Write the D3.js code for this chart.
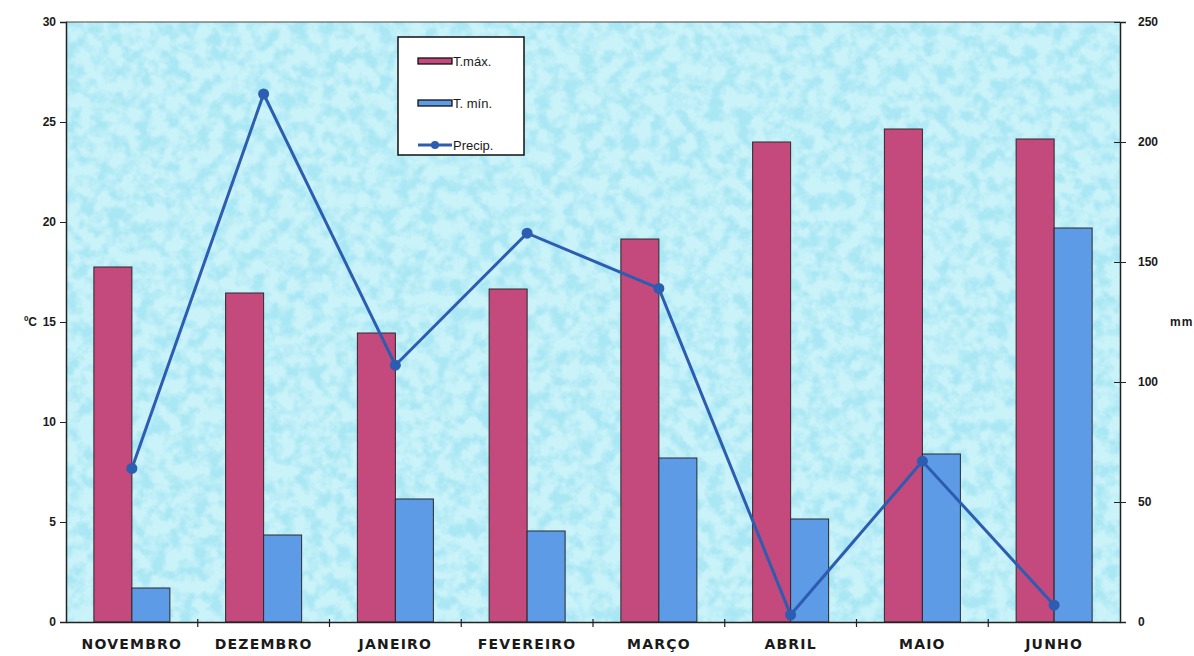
<!DOCTYPE html>
<html>
<head>
<meta charset="utf-8">
<script src="https://cdn.jsdelivr.net/npm/d3@7"></script>
<style>
  body { margin: 0; background: #ffffff; }
  text { font-family: "Liberation Sans", Arial, sans-serif; font-weight: bold; fill: #1a1a1a; }
</style>
</head>
<body>
<div id="chart"></div>
<script>
// chart data
const months = ['NOVEMBRO', 'DEZEMBRO', 'JANEIRO', 'FEVEREIRO', 'MARÇO', 'ABRIL', 'MAIO', 'JUNHO'];
const tMax = [17.75, 16.45, 14.45, 16.65, 19.15, 24.0, 24.65, 24.15];
const tMin = [1.7, 4.35, 6.15, 4.55, 8.2, 5.15, 8.4, 19.7];
const precip = [64, 220, 107, 162, 139, 3, 67, 7];
const tempTicks = [0, 5, 10, 15, 20, 25, 30];
const precipTicks = [0, 50, 100, 150, 200, 250];
const legendItems = ['T.máx.', 'T. mín.', 'Precip.'];

// dimensions and margins
const W = 1194, H = 656;
const margin = {top: 22, right: 74, bottom: 34, left: 66},
    width = W - margin.left - margin.right,
    height = H - margin.top - margin.bottom;

const colRed = '#c4497c', colBlue = '#5e9be6', colLine = '#2c5db0';

const svg = d3.select('#chart').append('svg')
    .attr('width', W).attr('height', H);

// mottled cyan background texture
const defs = svg.append('defs');
const filt = defs.append('filter').attr('id', 'tex')
    .attr('x', 0).attr('y', 0).attr('width', '100%').attr('height', '100%');
filt.append('feTurbulence').attr('type', 'fractalNoise')
    .attr('baseFrequency', '0.07').attr('numOctaves', 3).attr('seed', 7);
filt.append('feColorMatrix').attr('type', 'matrix')
    .attr('values', '0 0 0 0 0.40  0 0 0 0 0.80  0 0 0 0 0.90  3.4 0 0 0 -1.35');
filt.append('feComposite').attr('in2', 'SourceGraphic').attr('operator', 'in');

const g = svg.append('g')
    .attr('transform', 'translate(' + margin.left + ',' + margin.top + ')');

// scales
const x = d3.scaleBand().domain(months).range([0, width]);
const xInner = d3.scaleBand().domain(['max', 'min']).range([0, 76]);
const yTemp = d3.scaleLinear().domain([0, 30]).range([height, 0]);
const yPrec = d3.scaleLinear().domain([0, 250]).range([height, 0]);

// plot background
g.append('rect').attr('width', width).attr('height', height).attr('fill', '#c9f2f9');
g.append('rect').attr('width', width).attr('height', height).attr('fill', '#fff')
    .attr('filter', 'url(#tex)');
g.append('line').attr('x1', 0).attr('x2', width).attr('y1', 0).attr('y2', 0)
    .attr('stroke', '#444').attr('stroke-width', 1);

// bars
const groups = g.selectAll('.month').data(months).enter().append('g')
    .attr('transform', d => 'translate(' + (x(d) + (x.bandwidth() - 76) / 2) + ',0)');
groups.append('rect')
    .attr('x', xInner('max')).attr('width', xInner.bandwidth())
    .attr('y', (d, i) => yTemp(tMax[i])).attr('height', (d, i) => height - yTemp(tMax[i]))
    .attr('fill', colRed).attr('stroke', '#2a2a2a').attr('stroke-width', 1);
groups.append('rect')
    .attr('x', xInner('min')).attr('width', xInner.bandwidth())
    .attr('y', (d, i) => yTemp(tMin[i])).attr('height', (d, i) => height - yTemp(tMin[i]))
    .attr('fill', colBlue).attr('stroke', '#2a2a2a').attr('stroke-width', 1);

// precipitation line
const line = d3.line()
    .x((d, i) => x(months[i]) + x.bandwidth() / 2)
    .y(d => yPrec(d));
g.append('path').datum(precip).attr('d', line)
    .attr('fill', 'none').attr('stroke', colLine).attr('stroke-width', 3);
g.selectAll('.pt').data(precip).enter().append('circle')
    .attr('cx', (d, i) => x(months[i]) + x.bandwidth() / 2)
    .attr('cy', d => yPrec(d)).attr('r', 5.5).attr('fill', colLine);

// left axis (°C)
const axL = g.append('g').call(d3.axisLeft(yTemp).tickValues(tempTicks).tickSize(6).tickPadding(4));
axL.selectAll('line').attr('stroke', '#222').attr('x2', -6);
axL.select('.domain').attr('stroke', '#222').attr('stroke-width', 1.5);
axL.selectAll('text').style('font-size', '12px');
g.append('text').attr('x', -29).attr('y', yTemp(15) + 4)
    .attr('text-anchor', 'end').style('font-size', '12px').text('ºC');

// right axis (mm)
const axR = g.append('g').attr('transform', 'translate(' + width + ',0)')
    .call(d3.axisRight(yPrec).tickValues(precipTicks).tickSize(6).tickPadding(12));
axR.selectAll('.tick line').attr('stroke', '#222').attr('x1', -6);
axR.select('.domain').attr('stroke', '#222').attr('stroke-width', 1.5);
axR.selectAll('text').style('font-size', '12px');
g.append('text').attr('x', width + 50).attr('y', yPrec(125) + 4)
    .style('font-size', '12px').style('letter-spacing', '1px').text('mm');

// bottom axis
const axB = g.append('g').attr('transform', 'translate(0,' + height + ')')
    .call(d3.axisBottom(x).tickSize(0).tickPadding(17));
axB.select('.domain').attr('stroke', '#222').attr('stroke-width', 1.5);
axB.selectAll('text').style('font-size', '14px').style('letter-spacing', '1.2px')
    .style('font-family', '"DejaVu Sans", sans-serif');
// small ticks between months
g.selectAll('.sep').data(months.slice(1)).enter().append('line')
    .attr('x1', d => x(d)).attr('x2', d => x(d))
    .attr('y1', height - 3).attr('y2', height + 5)
    .attr('stroke', '#222').attr('stroke-width', 1.2);

// legend
const leg = g.append('g').attr('transform', 'translate(332,15)');
leg.append('rect').attr('width', 126).attr('height', 118)
    .attr('fill', '#ffffff').attr('stroke', '#111').attr('stroke-width', 1.5);
const legY = d3.scalePoint().domain(legendItems).range([24, 108]);
leg.append('rect').attr('x', 20).attr('y', legY('T.máx.') - 3).attr('width', 34).attr('height', 6)
    .attr('fill', colRed).attr('stroke', '#111').attr('stroke-width', 1.3);
leg.append('rect').attr('x', 20).attr('y', legY('T. mín.') - 3).attr('width', 34).attr('height', 6)
    .attr('fill', colBlue).attr('stroke', '#111').attr('stroke-width', 1.3);
leg.append('line').attr('x1', 20).attr('x2', 54)
    .attr('y1', legY('Precip.')).attr('y2', legY('Precip.'))
    .attr('stroke', colLine).attr('stroke-width', 3);
leg.append('circle').attr('cx', 37).attr('cy', legY('Precip.')).attr('r', 4).attr('fill', colLine);
leg.selectAll('.lt').data(legendItems).enter().append('text')
    .attr('x', 55).attr('y', d => legY(d) + 5)
    .style('font-size', '13px').style('font-weight', 'normal').text(d => d);
</script>
</body>
</html>
